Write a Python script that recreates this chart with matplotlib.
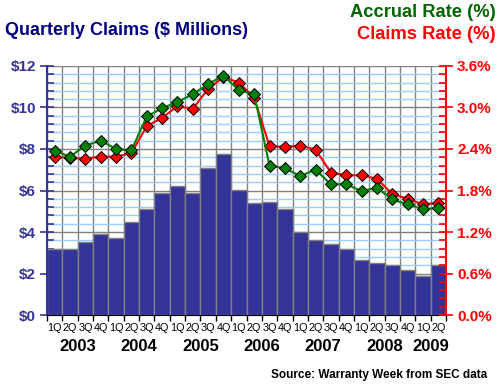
import numpy as np
import matplotlib
matplotlib.use('Agg')
import matplotlib.pyplot as plt
from matplotlib.ticker import MultipleLocator, FixedLocator, NullFormatter
import matplotlib.transforms as mtransforms

plt.rcParams['font.family'] = ['Liberation Sans', 'DejaVu Sans']

quarters = ['1Q', '2Q', '3Q', '4Q'] * 6 + ['1Q', '2Q']
years = ['2003', '2004', '2005', '2006', '2007', '2008', '2009']
year_centers = [2, 6, 10, 14, 18, 22, 25]

# quarterly claims, $ millions
claims = [3.19, 3.19, 3.53, 3.90, 3.69, 4.48, 5.10, 5.87, 6.22, 5.90, 7.08, 7.75,
          6.02, 5.40, 5.45, 5.11, 4.00, 3.61, 3.42, 3.18, 2.65, 2.50, 2.39, 2.16,
          1.87, 2.40]
# rates, percent
accrual_rate = [2.37, 2.29, 2.45, 2.52, 2.40, 2.38, 2.87, 2.99, 3.08, 3.19, 3.34, 3.46,
                3.25, 3.19, 2.16, 2.12, 2.01, 2.10, 1.89, 1.89, 1.79, 1.84, 1.67, 1.60,
                1.53, 1.55]
claims_rate = [2.29, 2.27, 2.26, 2.29, 2.29, 2.34, 2.73, 2.85, 3.02, 2.98, 3.27, 3.44,
               3.36, 3.14, 2.44, 2.43, 2.45, 2.39, 2.06, 2.02, 2.02, 1.97, 1.75, 1.68,
               1.60, 1.62]

navy = '#333399'
fig = plt.figure(figsize=(5, 3.87), dpi=100)
ax = fig.add_axes([0.094, 0.186, 0.798, 0.6435])
n = len(claims)
xpos = np.arange(n) + 0.5

ax.bar(xpos, claims, width=1.0, color=navy, edgecolor='#808080', linewidth=1, zorder=2)
ax.set_xlim(0, n)
ax.set_ylim(0, 12)

# grid
ax.yaxis.set_major_locator(MultipleLocator(2))
ax.yaxis.set_minor_locator(MultipleLocator(0.4))
ax.xaxis.set_major_locator(FixedLocator(np.arange(n + 1)))
ax.grid(True, which='minor', axis='y', color='#99CCFF', linewidth=1, zorder=0)
ax.grid(True, which='major', axis='y', color='#808080', linewidth=1, zorder=0)
ax.grid(True, which='major', axis='x', color='#808080', linewidth=1, zorder=0)
ax.set_axisbelow(True)

ax.set_yticks([0, 2, 4, 6, 8, 10, 12])
ax.set_yticklabels(['$%d' % v for v in [0, 2, 4, 6, 8, 10, 12]])
ax.tick_params(axis='y', which='major', direction='inout', length=10, width=1.2,
               colors=navy, labelsize=11, pad=3)
ax.tick_params(axis='y', which='minor', direction='in', length=5, width=1.2, color=navy)
for lab in ax.get_yticklabels():
    lab.set_fontweight('bold')

ax.set_xticks(np.arange(n + 1))
ax.set_xticklabels([''] * (n + 1))
ax.set_xticks(xpos, quarters, minor=True)
ax.tick_params(axis='x', which='major', direction='out', length=4, width=1, color='black')
ax.tick_params(axis='x', which='minor', length=0, labelsize=7.8, pad=6)

for s in ['top', 'right']:
    ax.spines[s].set_visible(False)
ax.spines['left'].set_color(navy)
ax.spines['left'].set_linewidth(1.5)
ax.spines['bottom'].set_color('black')

trans = mtransforms.blended_transform_factory(ax.transData, ax.transAxes)
for y, c in zip(years, year_centers):
    ax.text(c, -0.125, y, transform=trans, ha='center', va='center',
            fontsize=12, fontweight='bold', color='black')

ax2 = ax.twinx()
ax2.set_ylim(0, 3.6)
ax2.plot(xpos, claims_rate, color='#FF0000', linewidth=1.5, marker='D', markersize=6.5,
         markerfacecolor='#FF0000', markeredgecolor='black', markeredgewidth=0.7, zorder=3)
ax2.plot(xpos, accrual_rate, color='#008000', linewidth=1.5, marker='D', markersize=6.5,
         markerfacecolor='#008000', markeredgecolor='black', markeredgewidth=0.7, zorder=4)
ax2.set_yticks([0, 0.6, 1.2, 1.8, 2.4, 3.0, 3.6])
ax2.set_yticklabels(['%.1f%%' % v for v in [0, 0.6, 1.2, 1.8, 2.4, 3.0, 3.6]])
ax2.yaxis.set_minor_locator(MultipleLocator(0.12))
ax2.tick_params(axis='y', which='major', direction='inout', length=10, width=1.2,
                colors='#FF0000', labelsize=11, pad=3)
ax2.tick_params(axis='y', which='minor', direction='in', length=5, width=1.2, color='#FF0000')
for lab in ax2.get_yticklabels():
    lab.set_fontweight('bold')
for s in ['top', 'left', 'bottom']:
    ax2.spines[s].set_visible(False)
ax2.spines['right'].set_color('#FF0000')
ax2.spines['right'].set_linewidth(1.5)

fig.text(0.01, 0.922, 'Quarterly Claims ($ Millions)', fontsize=13, fontweight='bold',
         color='#000080', ha='left', va='center')
fig.text(0.992, 0.968, 'Accrual Rate (%)', fontsize=13.2, fontweight='bold',
         color='#006600', ha='right', va='center')
fig.text(0.992, 0.910, 'Claims Rate (%)', fontsize=13.2, fontweight='bold',
         color='#FF0000', ha='right', va='center')
fig.text(0.974, 0.031, 'Source: Warranty Week from SEC data', fontsize=8.5,
         fontweight='bold', color='black', ha='right', va='center')

fig.savefig('out.png', dpi=100)
